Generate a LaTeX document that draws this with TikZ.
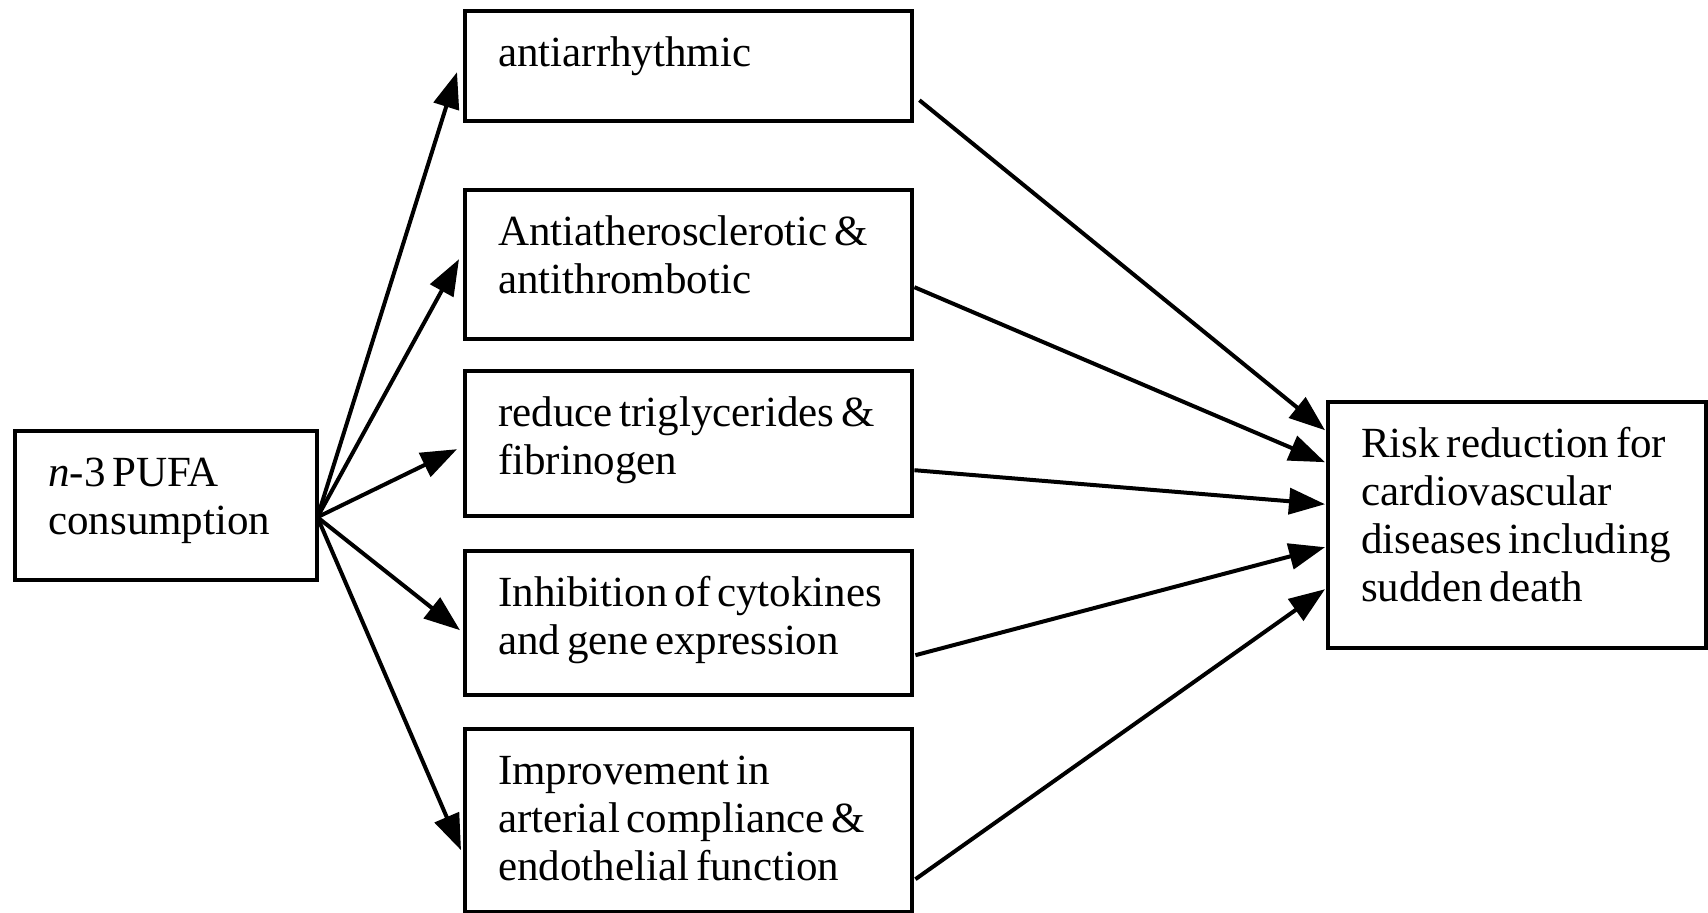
\documentclass[tikz,border=0pt]{standalone}
\usepackage{fontspec}
\setmainfont{Liberation Serif}
\usetikzlibrary{arrows.meta, calc}
\hyphenpenalty=10000
\tikzset{
  effect box/.style={
    draw,
    line width=2.2pt,
    anchor=north west,
    align=left,
    inner xsep=16.5pt,
    inner ysep=0pt,
    text height=27.5pt,
    font=\fontsize{21.5}{24}\selectfont,
    execute at begin node={\spaceskip=3.4pt\relax}
  },
  fx arrow/.style={
    -{Triangle[length=18pt, width=13pt]},
    line width=2pt
  }
}

\begin{document}
\begin{tikzpicture}[x=0.5pt, y=-0.5pt]
  \useasboundingbox (0,0) rectangle (1708,913);

  % source and outcome
  \node[effect box, text width=118pt, text depth=47pt] (pufa) at (13,429) {\textit{n}-3 PUFA\\consumption};
  \node[effect box, text width=156pt, text depth=95.5pt] (risk) at (1326,400) {Risk reduction for\\cardiovascular\\diseases~including\\sudden death};

  % mechanisms
  \node[effect box, text width=190.5pt, text depth=27.5pt] (arrh) at (463,9) {antiarrhythmic};
  \node[effect box, text width=190.5pt, text depth=47pt] (athero) at (463,188) {Antiatherosclerotic \&\\antithrombotic};
  \node[effect box, text width=190.5pt, text depth=45pt] (trig) at (463,369) {reduce triglycerides~\&\\fibrinogen};
  \node[effect box, text width=190.5pt, text depth=44.5pt] (cyto) at (463,549) {Inhibition~of~cytokines\\and gene expression};
  \node[effect box, text width=190.5pt, text depth=64pt] (arter) at (463,727) {Improvement in\\arterial compliance~\&\\endothelial function};

  \draw[fx arrow] ($(pufa.east)+(-2,11.5)$) -- ($(arrh.west)+(-6,6)$);
  \draw[fx arrow] ($(pufa.east)+(-2,11.5)$) -- ($(athero.west)+(-4,-5.5)$);
  \draw[fx arrow] ($(pufa.east)+(-2,11.5)$) -- ($(trig.west)+(-6,5.5)$);
  \draw[fx arrow] ($(pufa.east)+(-2,11.5)$) -- ($(cyto.west)+(-3,7)$);
  \draw[fx arrow] ($(pufa.east)+(-2,11.5)$) -- ($(arter.west)+(-2,29.5)$);

  \draw[fx arrow] ($(arrh.east)+(5,34)$) -- ($(risk.west)+(-1,-95)$);
  \draw[fx arrow] ($(athero.east)+(0,22.5)$) -- ($(risk.west)+(-1,-63)$);
  \draw[fx arrow] ($(trig.east)+(0,26.5)$) -- ($(risk.west)+(-1,-21)$);
  \draw[fx arrow] ($(cyto.east)+(1,32)$) -- ($(risk.west)+(-1,22)$);
  \draw[fx arrow] ($(arter.east)+(1,58.5)$) -- ($(risk.west)+(-1,64)$);
\end{tikzpicture}
\end{document}
